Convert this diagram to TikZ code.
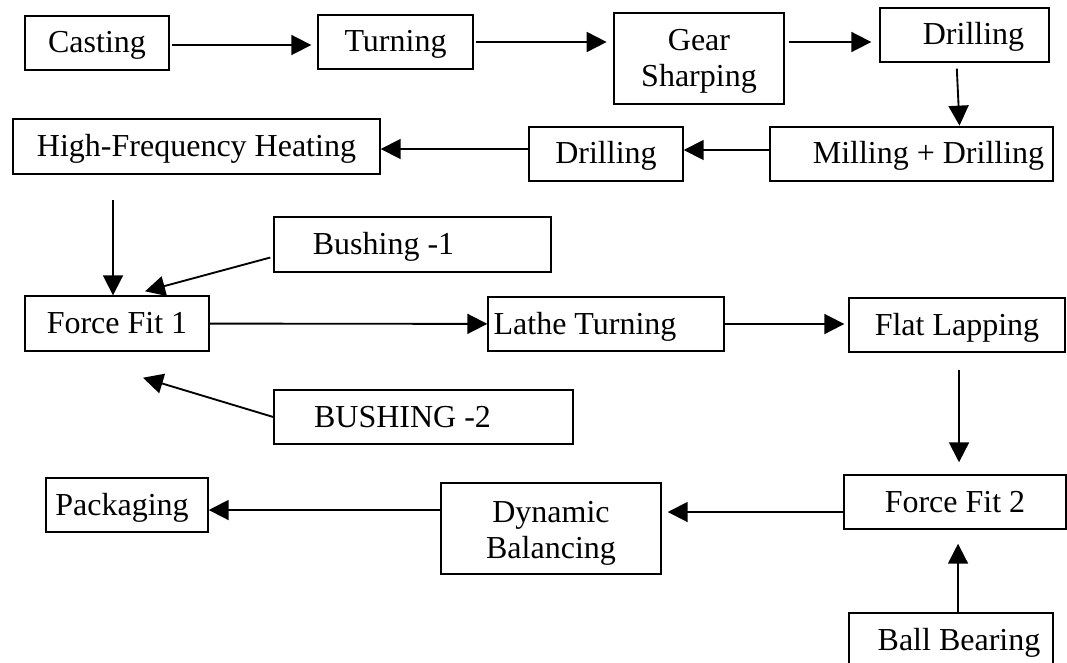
\documentclass[tikz,border=0pt]{standalone}
\usepackage{fontspec}
\setmainfont{Liberation Serif}
\usepackage{tikz}
\usetikzlibrary{arrows.meta,calc}

\tikzset{
    box/.style={rectangle, draw, line width=1.4pt, inner sep=2pt, align=center, text height=27pt, text depth=7pt, font=\fontsize{32}{36}\selectfont},
    twoline/.style={box, text height={}, text depth={}},
    arr/.style={-{Triangle[length=15pt,width=15pt]}, line width=1.4pt}
}

\begin{document}
\begin{tikzpicture}[x=1pt, y=-1pt, scale=0.75, transform shape]
    \useasboundingbox (0,0) rectangle (1067,663);

    % First row
    \node[box, minimum width=144pt, minimum height=54pt] (casting) at (97,43) {Casting};
    \node[box, minimum width=155pt, minimum height=54pt] (turning) at (395.5,42) {Turning};
    \node[twoline, minimum width=170pt, minimum height=91pt] (gear) at (699,58.5) {\rule{0pt}{26pt}Gear\\Sharping};
    \node[box, minimum width=169pt, minimum height=54pt] (drill1) at (964.5,35) {\hspace*{18pt}Drilling};

    % Second row
    \node[box, minimum width=367pt, minimum height=55pt] (hfh) at (196.5,146.5) {High-Frequency Heating};
    \node[box, minimum width=154pt, minimum height=54pt] (drill2) at (606,154) {Drilling};
    \node[box, minimum width=283pt, minimum height=54pt] (milling) at (911.5,154) {\hspace*{34pt}Milling + Drilling};

    % Force fit 1 with bushings
    \node[box, minimum width=277pt, minimum height=55pt] (bush1) at (412.5,244.5) {Bushing -1\hspace*{58pt}};
    \node[box, minimum width=184pt, minimum height=55pt] (ff1) at (117,323.5) {Force Fit 1};
    \node[box, minimum width=236pt, minimum height=54pt] (lathe) at (606,324) {Lathe Turning\hspace*{42pt}};
    \node[box, minimum width=216pt, minimum height=54pt] (flat) at (957,325) {Flat Lapping};
    \node[box, minimum width=299pt, minimum height=54pt] (bush2) at (423.5,417) {BUSHING -2\hspace*{42pt}};

    % Last row
    \node[box, minimum width=162pt, minimum height=54pt] (pack) at (127,505) {Packaging\hspace*{10pt}};
    \node[twoline, minimum width=220pt, minimum height=91pt] (dyn) at (551,528.5) {\rule{0pt}{30pt}Dynamic\\Balancing};
    \node[box, minimum width=222pt, minimum height=54pt] (ff2) at (955,502) {Force Fit 2};
    \node[box, minimum width=204pt, minimum height=54pt] (bball) at (951,640) {\hspace*{16pt}Ball Bearing};

    % Arrows
    \draw[arr, shorten <=1.5pt, shorten >=4.5pt] ($(casting.east)+(0,2)$) -- ($(casting.east -| turning.west)+(0,2)$);
    \draw[arr, shorten <=1.5pt, shorten >=5pt] (turning.east) -- (turning.east -| gear.west);
    \draw[arr, shorten <=3pt, shorten >=6pt] (gear.east |- turning.east) -- (drill1.west |- turning.east);
    \draw[arr, shorten <=4.5pt, shorten >=0.5pt] ($(drill1.south)+(-8,0)$) -- ($(drill1.south |- milling.north)+(-5,0)$);
    \draw[arr] ($(milling.west)+(0,-4)$) -- ($(milling.west -| drill2.east)+(0,-4)$);
    \draw[arr] ($(drill2.west)+(0,-5)$) -- ($(drill2.west -| hfh.east)+(0,-5)$);
    \draw[arr, shorten <=19pt] ($(hfh.south -| ff1.north)+(-4,0)$) -- ($(ff1.north)+(-4,0)$);
    \draw[arr] ($(bush1.west)+(-3,13)$) -- ($(ff1.north)+(28,-4)$);
    \draw[arr] (bush2.west) -- ($(ff1.south)+(26,26)$);
    \draw[arr] (ff1) -- (lathe);
    \draw[arr, shorten >=3pt] (lathe.east) -- (lathe.east -| flat.west);
    \draw[arr, shorten <=13pt, shorten >=9pt] ($(flat.south)+(2,0)$) -- ($(flat.south |- ff2.north)+(2,0)$);
    \draw[arr, shorten >=4.5pt] ($(ff2.west)+(0,10)$) -- ($(ff2.west -| dyn.east)+(0,10)$);
    \draw[arr] ($(dyn.west |- pack.east)+(0,5)$) -- ($(pack.east)+(0,5)$);
    \draw[arr, shorten >=10.5pt] ($(bball.north)+(7,0)$) -- ($(bball.north |- ff2.south)+(7,0)$);
\end{tikzpicture}
\end{document}
